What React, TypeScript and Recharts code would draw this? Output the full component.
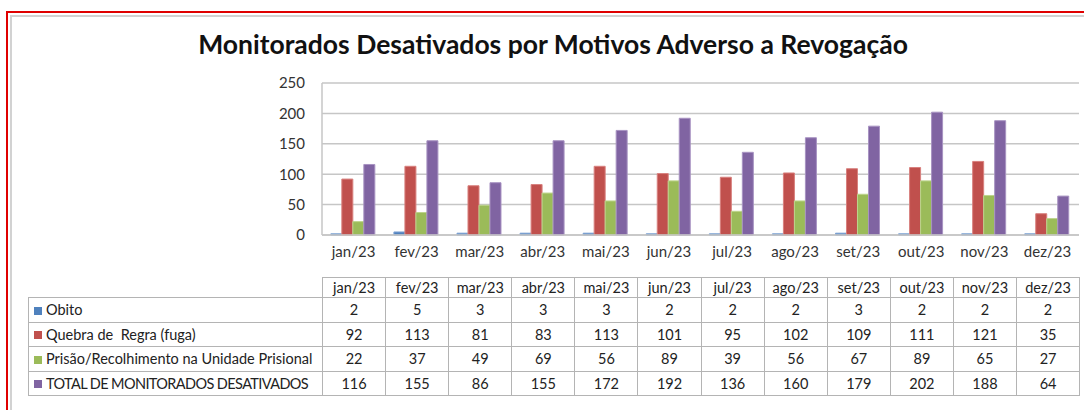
import { BarChart, Bar, XAxis, YAxis, CartesianGrid } from "recharts";

// ── data ────────────────────────────────────────────────────────────────
const MONTHS = [
  "jan/23", "fev/23", "mar/23", "abr/23", "mai/23", "jun/23",
  "jul/23", "ago/23", "set/23", "out/23", "nov/23", "dez/23",
];
const OBITO = [2, 5, 3, 3, 3, 2, 2, 2, 3, 2, 2, 2];
const QUEBRA = [92, 113, 81, 83, 113, 101, 95, 102, 109, 111, 121, 35];
const PRISAO = [22, 37, 49, 69, 56, 89, 39, 56, 67, 89, 65, 27];
const TOTAL = [116, 155, 86, 155, 172, 192, 136, 160, 179, 202, 188, 64];
const Y_TICKS = [0, 50, 100, 150, 200, 250];

const SERIES = [
  { key: "obito", name: "Obito", color: "#4F81BD", edge: "#7FA3D4", values: OBITO },
  { key: "quebra", name: "Quebra de  Regra (fuga)", color: "#C0504D", edge: "#D8807E", values: QUEBRA },
  { key: "prisao", name: "Prisão/Recolhimento na Unidade Prisional", color: "#9BBB59", edge: "#BDD48C", values: PRISAO },
  { key: "total", name: "TOTAL DE MONITORADOS DESATIVADOS", color: "#8064A2", edge: "#A893C2", values: TOTAL },
];

const rows = MONTHS.map((m, i) => {
  const r: Record<string, string | number> = { month: m };
  SERIES.forEach((s) => (r[s.key] = s.values[i]));
  return r;
});

// ── layout ──────────────────────────────────────────────────────────────
const FONT = "Lato, 'Open Sans', sans-serif";
const GRID = "#c6c6c6";
const CELL_BORDER = "1px solid #b4b4b4";
const LABEL_W = 294;
const COL_W = 63.1;

export default function App() {
  return (
    <div
      style={{
        position: "absolute",
        left: 0,
        top: 0,
        width: 1084,
        height: 410,
        background: "#fff",
        fontFamily: FONT,
        overflow: "hidden",
      }}
    >
      {/* outer red frame and inner grey frame */}
      <div style={{ position: "absolute", left: 6, top: 11, width: 1090, height: 420, borderLeft: "2px solid #e00000", borderTop: "2px solid #e00000" }} />
      <div style={{ position: "absolute", left: 10, top: 15, width: 1090, height: 420, borderLeft: "2px solid #d2d2d2", borderTop: "2px solid #d2d2d2" }} />

      <div
        style={{
          position: "absolute",
          left: 0,
          width: 1106,
          top: 28,
          textAlign: "center",
          fontSize: 26.5,
          fontWeight: 700,
          color: "#111",
          lineHeight: "32px",
        }}
      >
        Monitorados Desativados por Motivos Adverso a Revogação
      </div>

      <div style={{ position: "absolute", left: 0, top: 0 }}>
        <BarChart
          width={1084}
          height={270}
          data={rows}
          margin={{ top: 83, right: 5, bottom: 5, left: 0 }}
          barCategoryGap="14%"
          barGap={0}
        >
          <CartesianGrid vertical={false} stroke={GRID} strokeWidth={1.5} />
          <XAxis
            dataKey="month"
            height={30}
            tickLine={false}
            axisLine={{ stroke: GRID, strokeWidth: 1.5 }}
            tickSize={0}
            tickMargin={11}
            tick={{ fill: "#333", fontSize: 15, fontFamily: FONT }}
            interval={0}
          />
          <YAxis
            width={322}
            domain={[0, 250]}
            ticks={Y_TICKS}
            tickLine={false}
            axisLine={{ stroke: GRID, strokeWidth: 1.5 }}
            tickSize={0}
            tickMargin={17}
            tick={{ fill: "#333", fontSize: 15, fontFamily: FONT }}
          />
          {SERIES.map((s) => (
            <Bar
              key={s.key}
              dataKey={s.key}
              name={s.name}
              fill={s.color}
              stroke={s.edge}
              strokeWidth={1}
              isAnimationActive={false}
            />
          ))}
        </BarChart>
      </div>

      <table
        style={{
          position: "absolute",
          left: 28,
          top: 277,
          width: LABEL_W + COL_W * MONTHS.length,
          borderCollapse: "collapse",
          tableLayout: "fixed",
          fontSize: 14.5,
          color: "#222",
          fontFamily: FONT,
        }}
      >
        <colgroup>
          <col style={{ width: LABEL_W }} />
          {MONTHS.map((m) => (
            <col key={m} style={{ width: COL_W }} />
          ))}
        </colgroup>
        <tbody>
          <tr style={{ height: 20 }}>
            <td style={{ padding: 0, borderBottom: CELL_BORDER }} />
            {MONTHS.map((m) => (
              <td key={m} style={{ border: CELL_BORDER, textAlign: "center", padding: 0 }}>
                {m}
              </td>
            ))}
          </tr>
          {SERIES.map((s) => (
            <tr key={s.key} style={{ height: 24.5 }}>
              <td
                style={{
                  border: CELL_BORDER,
                  padding: "0 0 0 5px",
                  whiteSpace: "pre",
                  overflow: "hidden",
                  letterSpacing: s.name === s.name.toUpperCase() ? -0.6 : 0,
                }}
              >
                <span
                  style={{
                    display: "inline-block",
                    width: 8,
                    height: 8,
                    background: s.color,
                    marginRight: 4,
                    verticalAlign: "middle",
                    position: "relative",
                    top: -1,
                  }}
                />
                {s.name}
              </td>
              {s.values.map((v, i) => (
                <td key={i} style={{ border: CELL_BORDER, textAlign: "center", padding: 0 }}>
                  {v}
                </td>
              ))}
            </tr>
          ))}
        </tbody>
      </table>
    </div>
  );
}
